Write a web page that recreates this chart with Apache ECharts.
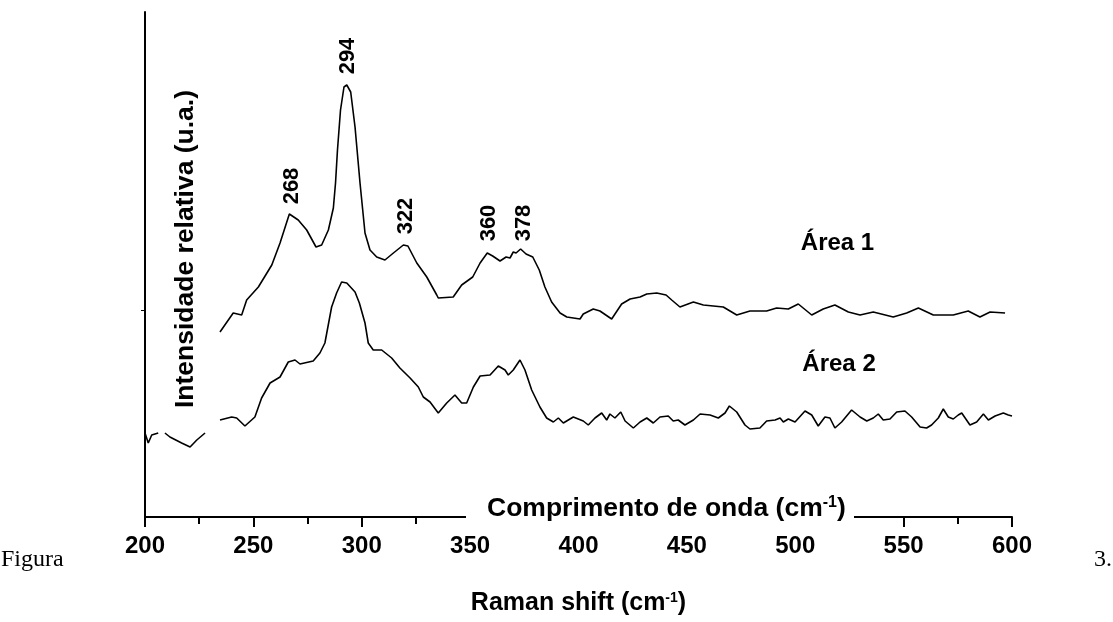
<!DOCTYPE html>
<html>
<head>
<meta charset="utf-8">
<script src="https://cdn.jsdelivr.net/npm/echarts@6/dist/echarts.min.js"></script>
<style>
html,body{margin:0;padding:0;background:#fff;}
#chart{width:1113px;height:622px;}
</style>
</head>
<body>
<div id="chart"></div>
<script>
// Raman shift (cm-1) and relative intensity (u.a.) — Área 1
const area1X = [234.6, 240.7, 244.6, 246.9, 252.3, 258.5, 262.3, 266.6, 270.7, 274.6,
  278.9, 281.5, 284.6, 286.9, 287.9, 288.8, 290.2, 291.8, 293.1, 294.9,
  296.9, 299.2, 301.5, 303.8, 306.9, 310.7, 314.6, 319.2, 321.3, 325.4,
  330, 334.6, 335.3, 342.2, 346.1, 351.2, 354.6, 357.9, 360.4, 363.8,
  366.6, 368.4, 369.9, 371.2, 373.3, 375.8, 378.9, 381.9, 384.5, 387.6,
  391.5, 394.6, 400.7, 402.2, 406.8, 409.9, 415.3, 419.9, 423.8, 428.4,
  431.5, 436.1, 440.4, 443, 446.8, 453, 457.6, 466.8, 473, 479.1,
  486.8, 491.4, 496.8, 501.4, 507.6, 512.9, 518.3, 524.5, 529.9, 536,
  545.2, 551.4, 556.8, 563.7, 572.9, 579.8, 585.2, 589.9, 596.8];
const area1Y = [185, 204, 202, 217, 230, 252, 274, 303, 297, 287,
  270, 272, 287, 309, 334, 367, 407, 430, 432, 425,
  390, 334, 284, 267, 260, 257, 264, 272, 271, 254,
  240, 222, 219, 220, 232, 240, 254, 264, 261, 256,
  260, 259, 265, 264, 268, 263, 260, 247, 230, 215,
  204, 200, 198, 203, 208, 206, 198, 213, 218, 220,
  223, 224, 222, 217, 210, 215, 212, 210, 202, 206,
  206, 209, 208, 213, 202, 208, 212, 205, 202, 205,
  200, 204, 209, 202, 202, 206, 200, 205, 204];

// Área 2 ('-' = gap in the trace)
const area2X = [200, 201.5, 203.1, 206.1, 207.5, 209.2, 211.5, 216.9, 220.8, 223.9, 227.7, 231,
  234.6, 240, 242.3, 246.1, 250.7, 253.8, 257.7, 262.3, 266.1, 269.2,
  271.5, 277.6, 280.7, 283, 286.1, 288.4, 290.7, 293.1, 296.9, 298.9,
  301.5, 303, 305.3, 309.2, 313.8, 317.6, 322.3, 326.1, 328.4, 331.5,
  335.3, 339.2, 343, 346.1, 348.4, 351.5, 354.6, 359.2, 363, 366.1,
  367.6, 369.9, 373, 375.3, 378.4, 382.2, 385.3, 388.4, 390.7, 393,
  397.6, 402.2, 404.5, 407.6, 410.7, 413, 414.5, 416.8, 419.5, 421.5,
  425.3, 428.4, 431.5, 434.5, 437.6, 441.4, 443.7, 446, 449.1, 453,
  456.1, 460.7, 464.5, 467.6, 469.6, 473, 476.8, 479.1, 483.7, 486.8,
  490.7, 493, 494.5, 496.8, 499.9, 504.5, 507.6, 510.6, 513.7, 516,
  518.3, 521.4, 526, 529.9, 533, 536, 538.3, 540.6, 543.7, 546.8,
  550.6, 553.7, 557.6, 560.6, 562.9, 566, 568.3, 570.6, 572.9, 575.2,
  576.8, 580.6, 583.7, 586.8, 589.1, 592.2, 596, 598.3, 600];
const area2Y = [84, 74, 82, 84, '-', 84, 80, 74, 70, 77, 84, '-',
  97, 100, 99, 91, 100, 119, 134, 140, 155, 157,
  153, 156, 164, 174, 210, 224, 235, 234, 225, 214,
  194, 174, 167, 167, 159, 149, 139, 130, 120, 115,
  104, 114, 122, 114, 114, 130, 141, 142, 151, 147,
  142, 147, 157, 147, 127, 110, 99, 95, 99, 94,
  100, 96, 92, 99, 104, 97, 103, 99, 105, 96,
  89, 95, 99, 94, 100, 101, 96, 97, 92, 97,
  103, 102, 99, 104, 111, 105, 92, 88, 89, 96,
  97, 99, 95, 98, 95, 106, 102, 91, 100, 99,
  89, 95, 107, 100, 96, 99, 103, 97, 98, 105,
  106, 100, 90, 89, 92, 99, 108, 100, 98, 102,
  104, 92, 95, 103, 97, 101, 104, 102, 101];

// Peak annotations (label text, label centre in data units)
const peakLabels = ['268', '294', '322', '360', '378'];
const peakLabelX = [268.0, 293.8, 320.3, 358.6, 375.0];
const peakLabelY = [331, 461, 301, 294, 294];

// Series name annotations (label centre in data units)
const seriesNames = ['Área 1', 'Área 2'];
const nameLabelX = [519.5, 520.2];
const nameLabelY = [274, 153];

const xTickInterval = 50;
const xMin = 200, xMax = 600;
const yTickValues = [207];

const zip = (xs, ys) => xs.map((x, i) => [x, ys[i]]);

const chart = echarts.init(document.getElementById('chart'), null, {renderer: 'canvas'});

const peakMarks = peakLabels.map((t, i) => ({
  name: t, coord: [peakLabelX[i], peakLabelY[i]]
}));

const nameMark = (i) => ({
  symbol: 'rect', symbolSize: 1,
  itemStyle: {color: 'rgba(0,0,0,0)'},
  label: {show: true, position: 'inside', formatter: '{b}', color: '#000',
    fontFamily: 'Liberation Sans, Arial, sans-serif', fontWeight: 'bold', fontSize: 24},
  data: [{name: seriesNames[i], coord: [nameLabelX[i], nameLabelY[i]]}]
});

const option = {
  animation: false,
  backgroundColor: '#fff',
  grid: {left: 145, right: 101, top: 12, bottom: 105},
  xAxis: {
    type: 'value', min: xMin, max: xMax, interval: xTickInterval,
    axisLine: {show: true, lineStyle: {color: '#000', width: 2}},
    axisTick: {show: true, length: 10, lineStyle: {color: '#000', width: 2}},
    minorTick: {show: true, splitNumber: 2, length: 7, lineStyle: {color: '#000', width: 2}},
    splitLine: {show: false},
    axisLabel: {color: '#000', fontFamily: 'Liberation Sans, Arial, sans-serif',
      fontWeight: 'bold', fontSize: 24, margin: 17},
    name: '{a|Raman shift (cm}{s|-1}{a|)}',
    nameLocation: 'middle', nameGap: 74,
    nameTextStyle: {
      rich: {
        a: {color: '#000', fontFamily: 'Liberation Sans, Arial, sans-serif',
          fontWeight: 'bold', fontSize: 25},
        s: {color: '#000', fontFamily: 'Liberation Sans, Arial, sans-serif',
          fontWeight: 'bold', fontSize: 14, verticalAlign: 'top', padding: [0, 0, 10, 0]}
      }
    }
  },
  yAxis: {
    type: 'value', min: 0, max: 505,
    axisLine: {show: true, lineStyle: {color: '#000', width: 2}},
    axisTick: {show: true, customValues: yTickValues, length: 4, lineStyle: {color: '#000', width: 1}},
    axisLabel: {show: false},
    splitLine: {show: false}
  },
  series: [
    {
      name: seriesNames[0], type: 'line', data: zip(area1X, area1Y),
      showSymbol: false, symbol: 'none', smooth: false,
      lineStyle: {color: '#000', width: 1.6}, z: 3,
      markPoint: {
        symbol: 'rect', symbolSize: 1,
        itemStyle: {color: 'rgba(0,0,0,0)'},
        label: {show: true, position: 'inside', formatter: '{b}', rotate: 90, color: '#000',
          fontFamily: 'Liberation Sans, Arial, sans-serif', fontWeight: 'bold', fontSize: 22},
        data: peakMarks
      }
    },
    {
      name: seriesNames[1], type: 'line', data: zip(area2X, area2Y),
      showSymbol: false, symbol: 'none', smooth: false, connectNulls: false,
      lineStyle: {color: '#000', width: 1.6}, z: 3
    },
    {
      name: 'labels1', type: 'line', data: [], markPoint: nameMark(0)
    },
    {
      name: 'labels2', type: 'line', data: [], markPoint: nameMark(1)
    }
  ],
  graphic: [
    {
      type: 'rect', z: 100,
      shape: {x: 466, y: 492, width: 388, height: 38},
      style: {fill: '#fff'}
    },
    {
      type: 'text', z: 101, x: 487, y: 495,
      style: {
        text: '{a|Comprimento de onda (cm}{s|-1}{a|)}',
        rich: {
          a: {fill: '#000', fontFamily: 'Liberation Sans, Arial, sans-serif', fontWeight: 'bold', fontSize: 26.5},
          s: {fill: '#000', fontFamily: 'Liberation Sans, Arial, sans-serif', fontWeight: 'bold', fontSize: 16,
            verticalAlign: 'top', padding: [0, 0, 10, 0]}
        }
      }
    },
    {
      type: 'text', z: 101, x: 186, y: 249, rotation: Math.PI / 2,
      style: {
        text: 'Intensidade relativa (u.a.)', fill: '#000', align: 'center', verticalAlign: 'middle',
        font: 'bold 26.5px "Liberation Sans", Arial, sans-serif'
      }
    },
    {
      type: 'text', z: 101, x: 1, y: 560,
      style: {text: 'Figura', fill: '#000', verticalAlign: 'middle',
        font: '24px "Liberation Serif", "Times New Roman", serif'}
    },
    {
      type: 'text', z: 101, x: 1094, y: 560,
      style: {text: '3.', fill: '#000', verticalAlign: 'middle',
        font: '24px "Liberation Serif", "Times New Roman", serif'}
    }
  ]
};
chart.setOption(option);
</script>
</body>
</html>
